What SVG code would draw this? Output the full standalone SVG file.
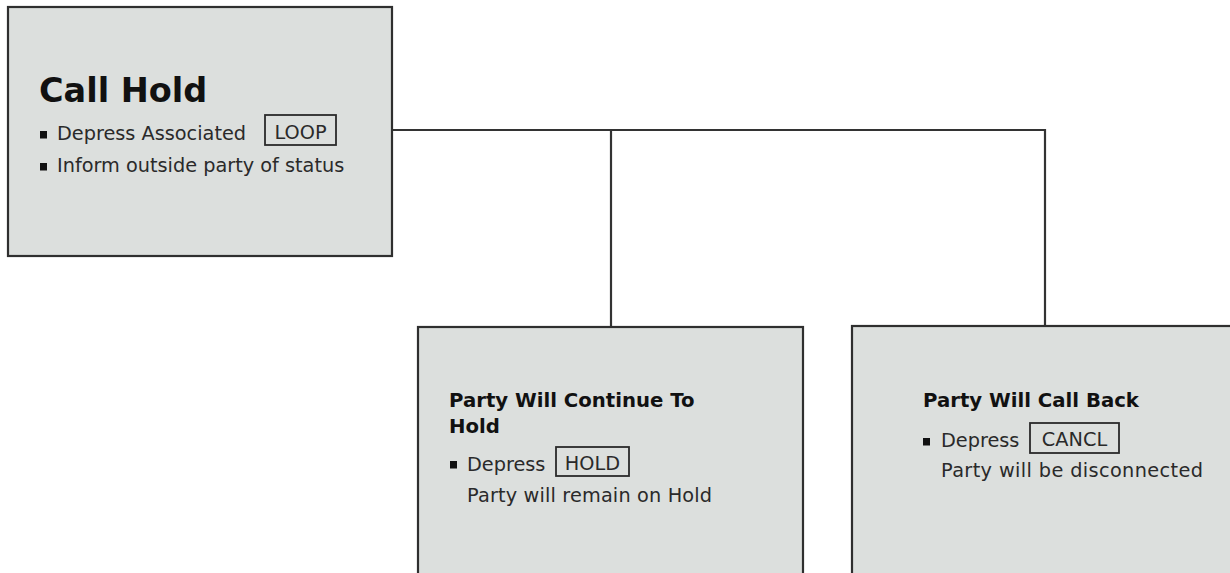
<svg xmlns="http://www.w3.org/2000/svg" width="1230" height="573" viewBox="0 0 1230 573">
<style>
.box{fill:#dcdfdd;stroke:#2f2f2f;stroke-width:2.2}
.key{fill:none;stroke:#2a2a2a;stroke-width:1.8}
.t{font-family:"DejaVu Sans","Liberation Sans",sans-serif;fill:#2a2a2a;font-size:19.3px}
.h{font-family:"DejaVu Sans","Liberation Sans",sans-serif;font-weight:bold;fill:#111;font-size:19.7px}
.big{font-family:"DejaVu Sans","Liberation Sans",sans-serif;font-weight:bold;fill:#111;font-size:33.5px}
.bul{fill:#111}
.conn{fill:none;stroke:#333;stroke-width:2.2}
</style>
<rect width="1230" height="573" fill="#ffffff"/>
<g id="connectors">
<path class="conn" d="M392 130 H1045 V326"/>
<path class="conn" d="M611 130 V327"/>
</g>
<g id="call-hold">
<rect class="box" x="8" y="7" width="384" height="249"/>
<text class="big" x="39" y="102">Call Hold</text>
<rect class="bul" x="40" y="131" width="7" height="7.5"/>
<text class="t" x="57" y="140">Depress Associated</text>
<rect class="key" x="265" y="115" width="71" height="30"/>
<text class="t" x="300.5" y="139" text-anchor="middle">LOOP</text>
<rect class="bul" x="40" y="163" width="7" height="7.5"/>
<text class="t" x="57" y="172">Inform outside party of status</text>
</g>
<g id="continue-hold">
<rect class="box" x="418" y="327" width="385" height="260"/>
<text class="h" x="449" y="407">Party Will Continue To</text>
<text class="h" x="449" y="433">Hold</text>
<rect class="bul" x="450" y="461" width="7" height="7.5"/>
<text class="t" x="467" y="471">Depress</text>
<rect class="key" x="556" y="447" width="73" height="29"/>
<text class="t" x="592.5" y="470" text-anchor="middle">HOLD</text>
<text class="t" x="467" y="502" textLength="245">Party will remain on Hold</text>
</g>
<g id="call-back">
<rect class="box" x="852" y="326" width="390" height="260"/>
<text class="h" x="923" y="407">Party Will Call Back</text>
<rect class="bul" x="923" y="438" width="7" height="7.5"/>
<text class="t" x="941" y="447">Depress</text>
<rect class="key" x="1030" y="423" width="89" height="30"/>
<text class="t" x="1074.5" y="446" text-anchor="middle">CANCL</text>
<text class="t" x="941" y="477" textLength="262">Party will be disconnected</text>
</g>
</svg>
